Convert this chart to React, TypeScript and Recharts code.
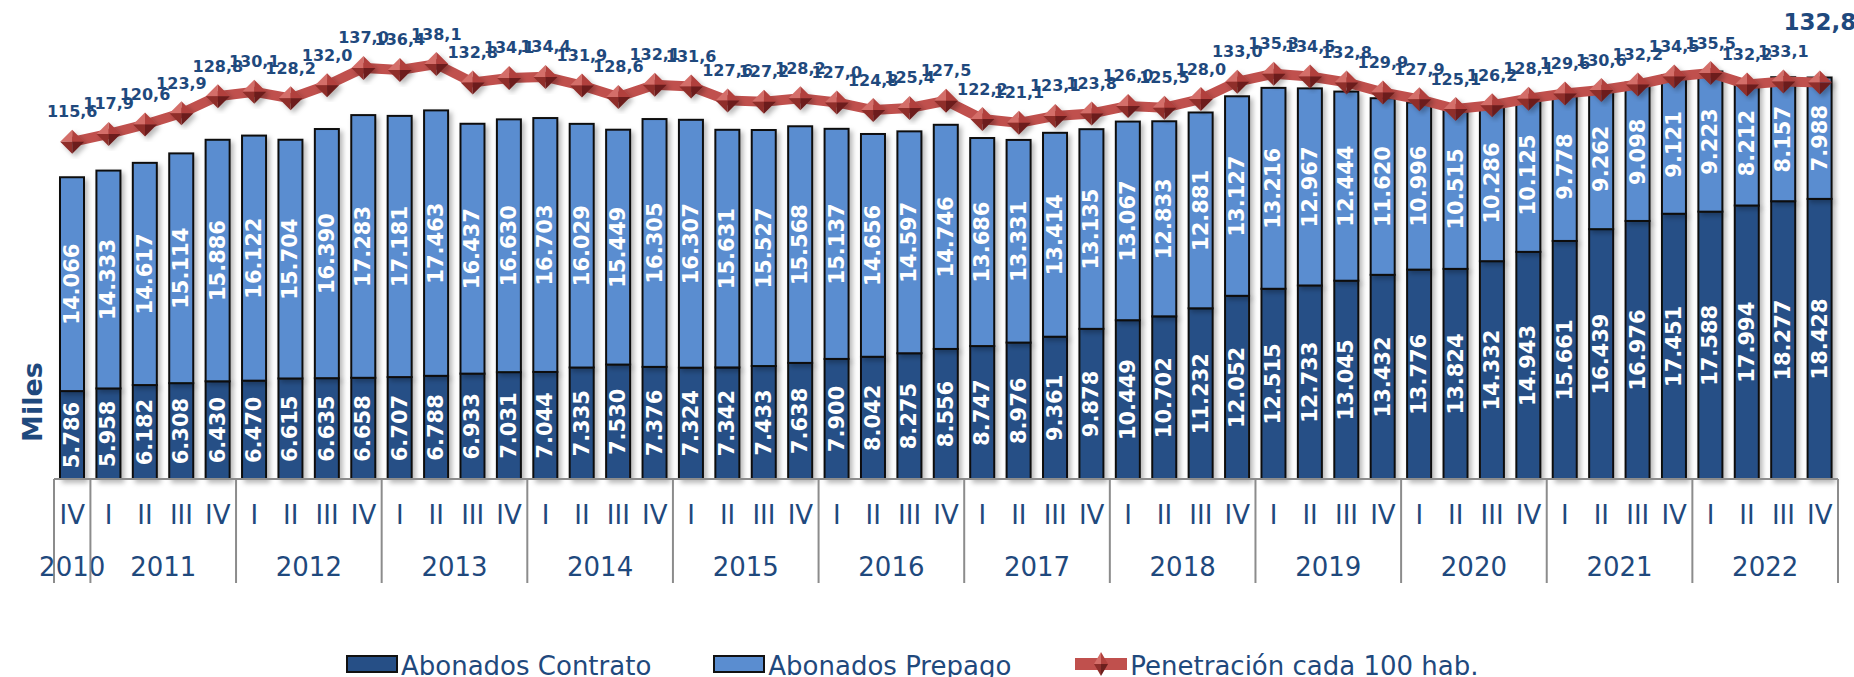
import { ComposedChart, Bar, Line, XAxis, YAxis, Legend, LabelList } from "recharts"

// quarter / year of every bar (2010 IV .. 2022 IV)
const quarters = [
  "IV",
  "I", "II", "III", "IV",
  "I", "II", "III", "IV",
  "I", "II", "III", "IV",
  "I", "II", "III", "IV",
  "I", "II", "III", "IV",
  "I", "II", "III", "IV",
  "I", "II", "III", "IV",
  "I", "II", "III", "IV",
  "I", "II", "III", "IV",
  "I", "II", "III", "IV",
  "I", "II", "III", "IV",
  "I", "II", "III", "IV",
]
const years = [
  "2010",
  "2011", "2011", "2011", "2011",
  "2012", "2012", "2012", "2012",
  "2013", "2013", "2013", "2013",
  "2014", "2014", "2014", "2014",
  "2015", "2015", "2015", "2015",
  "2016", "2016", "2016", "2016",
  "2017", "2017", "2017", "2017",
  "2018", "2018", "2018", "2018",
  "2019", "2019", "2019", "2019",
  "2020", "2020", "2020", "2020",
  "2021", "2021", "2021", "2021",
  "2022", "2022", "2022", "2022",
]

// miles de abonados
const contrato = [
  5786, 5958, 6182, 6308, 6430, 6470, 6615, 6635, 6658, 6707, 6788, 6933, 7031,
  7044, 7335, 7530, 7376, 7324, 7342, 7433, 7638, 7900, 8042, 8275, 8556, 8747,
  8976, 9361, 9878, 10449, 10702, 11232, 12052, 12515, 12733, 13045, 13432,
  13776, 13824, 14332, 14943, 15661, 16439, 16976, 17451, 17588, 17994, 18277,
  18428,
]
const prepago = [
  14066, 14333, 14617, 15114, 15886, 16122, 15704, 16390, 17283, 17181, 17463,
  16437, 16630, 16703, 16029, 15449, 16305, 16307, 15631, 15527, 15568, 15137,
  14656, 14597, 14746, 13686, 13331, 13414, 13135, 13067, 12833, 12881, 13127,
  13216, 12967, 12444, 11620, 10996, 10515, 10286, 10125, 9778, 9262, 9098, 9121,
  9223, 8212, 8157, 7988,
]
// penetración cada 100 hab.
const penetracion = [
  115.6, 117.9, 120.6, 123.9, 128.8, 130.1, 128.2, 132.0, 137.0, 136.4, 138.1,
  132.8, 134.1, 134.4, 131.9, 128.6, 132.1, 131.6, 127.6, 127.2, 128.2, 127.0,
  124.8, 125.4, 127.5, 122.2, 121.1, 123.1, 123.8, 126.0, 125.5, 128.0, 133.0,
  135.3, 134.5, 132.8, 129.9, 127.9, 125.1, 126.2, 128.1, 129.6, 130.6, 132.2,
  134.5, 135.5, 132.2, 133.1, 132.8,
]

const W = 1854
const H = 677
const MARGIN = { top: 23, right: 16, left: 54, bottom: 0 }
const BAND = (W - MARGIN.left - MARGIN.right) / quarters.length
const FONT = "DejaVu Sans, Verdana, sans-serif"
const NAVY = "#1F497D"
const DARK = "#264F86"
const LIGHT = "#5A8DD0"
const RED = "#C0504D"
const GRID = "#8C8C8C"

const chartData = quarters.map((q, i) => ({
  key: `${q}-${years[i]}`,
  contrato: contrato[i],
  prepago: prepago[i],
  pct: penetracion[i],
}))

const fmtMiles = (v: number) =>
  `${Math.floor(v / 1000)}.${String(v % 1000).padStart(3, "0")}`
const fmtPct = (v: number) => v.toFixed(1).replace(".", ",")

// -----------------------------
// Two-level category axis
// -----------------------------
function PeriodTick(props: any) {
  const { x, y, index } = props
  const yr = years[index]
  const left = x - BAND / 2
  const firstOfYear = index === 0 || years[index - 1] !== yr
  const last = index === quarters.length - 1
  const groupSize = years.filter((v) => v === yr).length

  return (
    <g>
      <text
        x={x}
        y={y + 36}
        textAnchor="middle"
        dominantBaseline="central"
        fill={NAVY}
        fontSize={26}
        fontFamily={FONT}
      >
        {quarters[index]}
      </text>
      {firstOfYear && (
        <>
          <line x1={left} x2={left} y1={y} y2={y + 104} stroke={GRID} strokeWidth={2} />
          <text
            x={left + (groupSize * BAND) / 2}
            y={y + 88}
            textAnchor="middle"
            dominantBaseline="central"
            fill={NAVY}
            fontSize={26}
            fontFamily={FONT}
          >
            {yr}
          </text>
        </>
      )}
      {last && (
        <line
          x1={x + BAND / 2}
          x2={x + BAND / 2}
          y1={y}
          y2={y + 104}
          stroke={GRID}
          strokeWidth={2}
        />
      )}
    </g>
  )
}

const BarShape = (p: any) => (
  <rect
    x={p.x}
    y={p.y}
    width={p.width}
    height={p.height}
    fill={p.fill}
    stroke="#111"
    strokeWidth={2}
    filter="url(#softShadow)"
  />
)

const barLabel = (p: any) => {
  const x = Number(p.x)
  const y = Number(p.y)
  const cx = x + Number(p.width) / 2
  const cy = y + Number(p.height) / 2
  return (
    <text
      x={cx}
      y={cy}
      transform={`rotate(-90 ${cx} ${cy})`}
      textAnchor="middle"
      dominantBaseline="central"
      fill="#fff"
      fontSize={21}
      fontWeight="bold"
      fontFamily={FONT}
    >
      {fmtMiles(Number(p.value))}
    </text>
  )
}

const DiamondDot = (p: any) => {
  const { cx, cy } = p
  if (cx == null || cy == null) return <g key={p.key} />
  const r = 12
  return (
    <g key={p.key} filter="url(#softShadow)">
      <polygon points={`${cx},${cy - r} ${cx - r},${cy} ${cx},${cy}`} fill="#D46E69" />
      <polygon points={`${cx},${cy - r} ${cx + r},${cy} ${cx},${cy}`} fill="#B1413D" />
      <polygon points={`${cx - r},${cy} ${cx},${cy + r} ${cx},${cy}`} fill="#8F2F2C" />
      <polygon points={`${cx + r},${cy} ${cx},${cy + r} ${cx},${cy}`} fill="#6C1F1D" />
    </g>
  )
}

const pctLabel = (p: any) => {
  const last = p.index === penetracion.length - 1
  return (
    <text
      x={Number(p.x)}
      y={Number(p.y) - (last ? 60 : 30)}
      textAnchor="middle"
      dominantBaseline="central"
      fill={NAVY}
      fontSize={last ? 23 : 16}
      fontWeight="bold"
      fontFamily={FONT}
    >
      {fmtPct(Number(p.value))}
    </text>
  )
}

const LegendIcon = ({ fill }: { fill: string }) => (
  <svg width={52} height={18} style={{ marginTop: 12, marginRight: 3 }}>
    <rect x={1} y={1} width={50} height={16} fill={fill} stroke="#111" strokeWidth={2} />
  </svg>
)

const renderLegend = () => (
  <div
    style={{
      display: "flex",
      alignItems: "flex-start",
      height: 34,
      paddingLeft: 346,
      fontFamily: FONT,
      fontSize: 26,
      color: NAVY,
      lineHeight: "30px",
    }}
  >
    <LegendIcon fill={DARK} />
    <span style={{ marginTop: 8, marginRight: 62 }}>Abonados Contrato</span>
    <LegendIcon fill={LIGHT} />
    <span style={{ marginTop: 8, marginRight: 64 }}>Abonados Prepago</span>
    <svg width={52} height={26} style={{ marginTop: 8, marginRight: 3 }}>
      <rect x={0} y={7} width={52} height={12} fill={RED} />
      <polygon points="26,1 19,13 26,13" fill="#D46E69" />
      <polygon points="26,1 33,13 26,13" fill="#B1413D" />
      <polygon points="19,13 26,25 26,13" fill="#8F2F2C" />
      <polygon points="33,13 26,25 26,13" fill="#6C1F1D" />
    </svg>
    <span style={{ marginTop: 8 }}>Penetración cada 100 hab.</span>
  </div>
)

export default function App() {
  return (
    <div style={{ position: "absolute", left: 0, top: 0, width: W, height: H, background: "#fff" }}>
      <ComposedChart width={W} height={H} data={chartData} margin={MARGIN}>
        <defs>
          <filter id="softShadow" x="-40%" y="-20%" width="180%" height="140%">
            <feDropShadow dx="3" dy="3" stdDeviation="2.5" floodColor="#000" floodOpacity="0.28" />
          </filter>
        </defs>

        <text
          x={32}
          y={402}
          transform="rotate(-90 32 402)"
          textAnchor="middle"
          dominantBaseline="central"
          fill={NAVY}
          fontSize={27}
          fontWeight="bold"
          fontFamily={FONT}
        >
          Miles
        </text>

        <XAxis
          dataKey="key"
          interval={0}
          height={164}
          tick={PeriodTick}
          tickLine={false}
          tickSize={0}
          tickMargin={0}
          axisLine={{ stroke: GRID, strokeWidth: 2 }}
        />
        <YAxis yAxisId="miles" domain={[0, 30000]} hide />
        <YAxis yAxisId="pct" orientation="right" domain={[18, 150]} hide />

        <Legend
          verticalAlign="bottom"
          content={renderLegend}
          wrapperStyle={{ left: 0, bottom: 0, width: W, height: 34 }}
        />

        <Bar
          yAxisId="miles"
          dataKey="contrato"
          name="Abonados Contrato"
          stackId="a"
          fill={DARK}
          barSize={24}
          shape={BarShape}
          isAnimationActive={false}
        >
          <LabelList dataKey="contrato" content={barLabel} />
        </Bar>
        <Bar
          yAxisId="miles"
          dataKey="prepago"
          name="Abonados Prepago"
          stackId="a"
          fill={LIGHT}
          barSize={24}
          shape={BarShape}
          isAnimationActive={false}
        >
          <LabelList dataKey="prepago" content={barLabel} />
        </Bar>

        <Line
          yAxisId="pct"
          dataKey="pct"
          name="Penetración cada 100 hab."
          stroke={RED}
          strokeWidth={10}
          dot={DiamondDot}
          activeDot={false}
          isAnimationActive={false}
        >
          <LabelList dataKey="pct" content={pctLabel} />
        </Line>
      </ComposedChart>
    </div>
  )
}
